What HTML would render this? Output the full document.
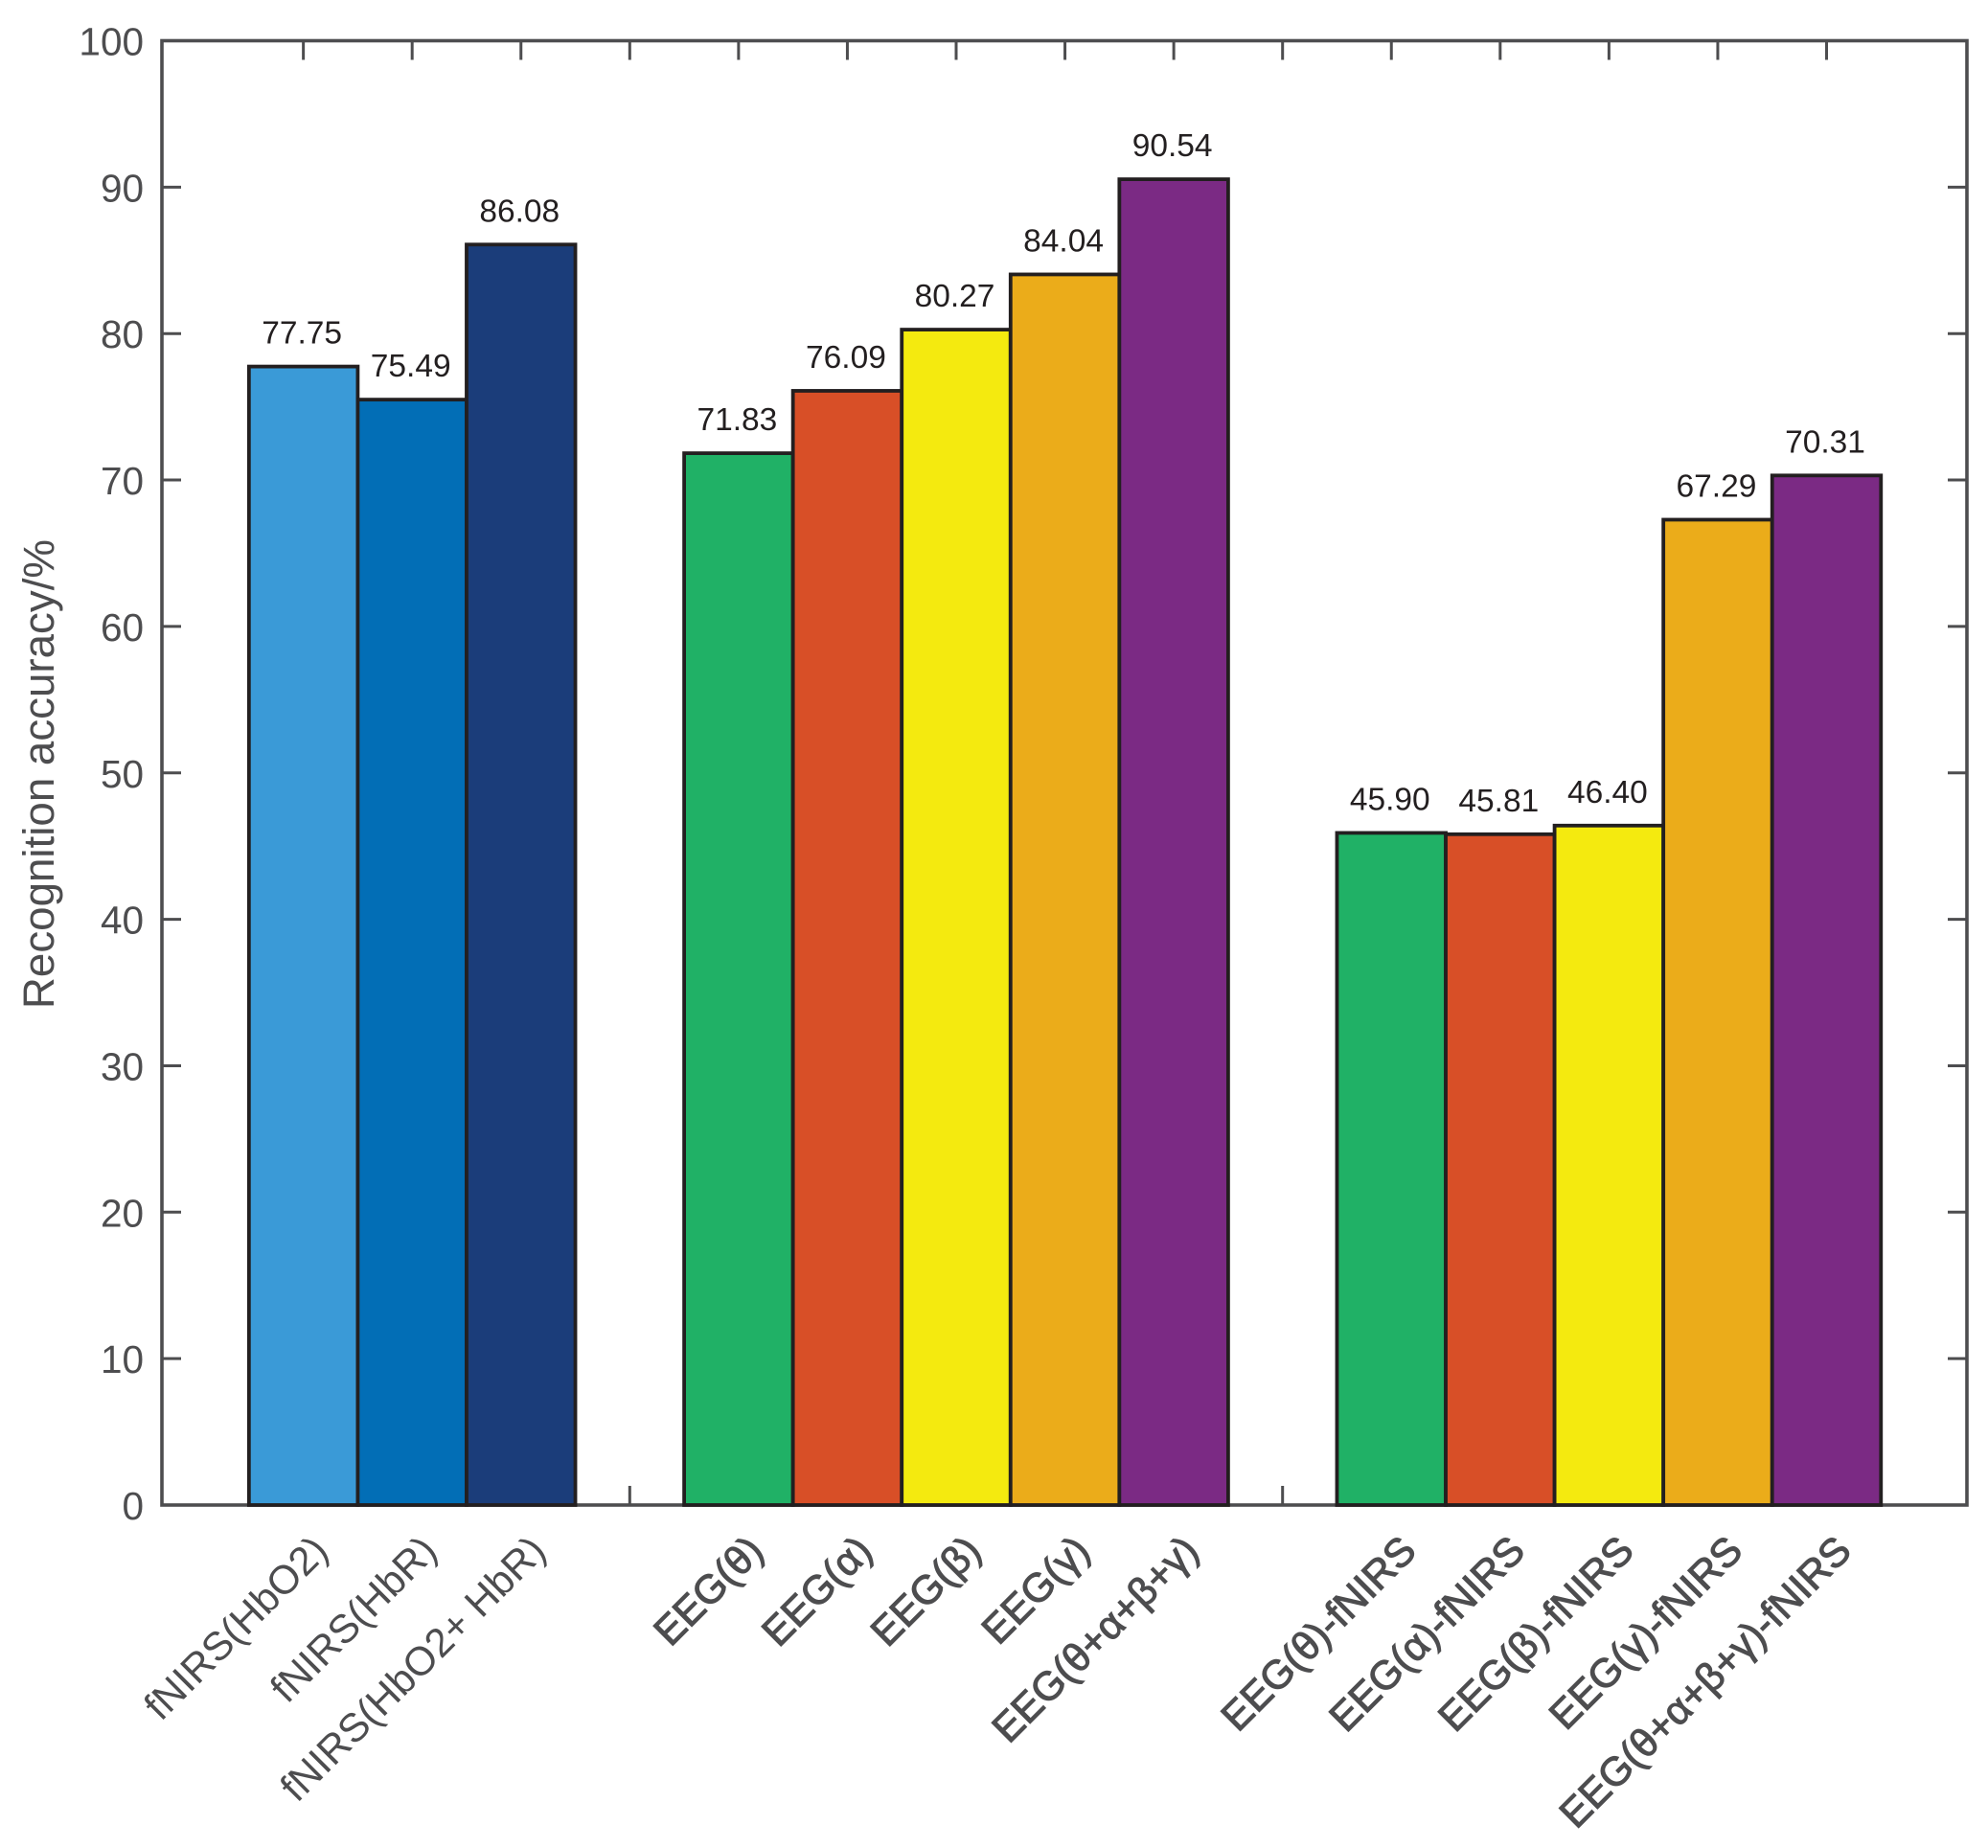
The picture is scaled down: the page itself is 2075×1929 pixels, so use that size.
<!DOCTYPE html>
<html lang="en">
<head>
<meta charset="utf-8">
<title>Recognition accuracy bar chart</title>
<style>
html,body{margin:0;padding:0;background:#fff;}
svg{display:block;font-family:"Liberation Sans",Arial,sans-serif;}
</style>
</head>
<body>
<svg id="chart" width="2075" height="1929" viewBox="0 0 2075 1929" xmlns="http://www.w3.org/2000/svg"></svg>
<script>
const categories = ["fNIRS(HbO2)","fNIRS(HbR)","fNIRS(HbO2+ HbR)","","EEG(θ)","EEG(α)","EEG(β)","EEG(γ)","EEG(θ+α+β+γ)","","EEG(θ)-fNIRS","EEG(α)-fNIRS","EEG(β)-fNIRS","EEG(γ)-fNIRS","EEG(θ+α+β+γ)-fNIRS"];
const accuracy = [77.75,75.49,86.08,null,71.83,76.09,80.27,84.04,90.54,null,45.90,45.81,46.40,67.29,70.31];
const printedValues = ["77.75","75.49","86.08","","71.83","76.09","80.27","84.04","90.54","","45.90","45.81","46.40","67.29","70.31"];
const yTicks = [0,10,20,30,40,50,60,70,80,90,100];
const yTickLabels = ["0","10","20","30","40","50","60","70","80","90","100"];
const palette = ["#3a9ad7","#026eb6","#1b3d7a","","#20b166","#d84f27","#f4ea0f","#ebac1a","#7b2a84","","#20b166","#d84f27","#f4ea0f","#ebac1a","#7b2a84"];

const NS = "http://www.w3.org/2000/svg";
const svg = document.getElementById("chart");
const left = 169, right = 2053, top_ = 42.5, bottom = 1571;
const xMin = -0.3, xMax = 16.29, yMin = 0, yMax = 100;
const xScale = v => left + (v - xMin) / (xMax - xMin) * (right - left);
const yScale = v => bottom - (v - yMin) / (yMax - yMin) * (bottom - top_);
const axisColor = "#4d4d4f", barStroke = "#231f20";

function make(tag, attrs, text) {
  const el = document.createElementNS(NS, tag);
  for (const k in attrs) el.setAttribute(k, attrs[k]);
  if (text !== undefined) el.textContent = text;
  svg.appendChild(el);
  return el;
}

// plot frame
const frame = make("rect", {x:left, y:top_, width:right-left, height:bottom-top_, fill:"none", stroke:axisColor, "stroke-width":3.6});



// y ticks and labels
yTicks.forEach((t, i) => {
  const y = yScale(t);
  const tl = make("line", {x1:left, x2:left+20, y1:y, y2:y, stroke:axisColor, "stroke-width":3});
  
  
  const tr = make("line", {x1:right-20, x2:right, y1:y, y2:y, stroke:axisColor, "stroke-width":3});
  
  
  const lab = make("text", {x:150, y:y+15, "text-anchor":"end", "font-size":40.5, fill:axisColor}, yTickLabels[i]);
  
  
});

// x ticks
categories.forEach((c, i) => {
  const x = xScale(i + 1);
  const tb = make("line", {x1:x, x2:x, y1:bottom, y2:bottom-20, stroke:axisColor, "stroke-width":3});
  
  
  const tt = make("line", {x1:x, x2:x, y1:top_, y2:top_+20, stroke:axisColor, "stroke-width":3});
  
  
});

// bars and labels
const barUnit = xScale(2) - xScale(1);
categories.forEach((c, i) => {
  if (accuracy[i] === null) return;
  const cx = xScale(i + 1);
  const yTop = yScale(accuracy[i]);
  const bar = make("rect", {x:cx-barUnit/2, y:yTop, width:barUnit, height:yScale(0)-yTop, fill:palette[i], stroke:barStroke, "stroke-width":3.8});
  
  
});
categories.forEach((c, i) => {
  if (accuracy[i] === null) return;
  const cx = xScale(i + 1);
  const v = make("text", {x:cx-1.5, y:yScale(accuracy[i])-24, "text-anchor":"middle", "font-size":33.5, fill:barStroke}, printedValues[i]);
  
  
  const ax = cx + 28, ay = 1621;
  const isEeg = c.indexOf("EEG") === 0;
  const attrs = {x:ax, y:ay, "text-anchor":"end", "font-size":42, fill:axisColor, transform:"rotate(-45 "+ax+" "+ay+")"};
  if (isEeg) { attrs.stroke = axisColor; attrs["stroke-width"] = 1.1; }
  const cat = make("text", attrs, c);
  
  
});

// y axis title
const title = make("text", {x:0, y:0, "text-anchor":"middle", "font-size":45.7, fill:axisColor, transform:"translate(56 808) rotate(-90)"}, "Recognition accuracy/%");


</script>
</body>
</html>
